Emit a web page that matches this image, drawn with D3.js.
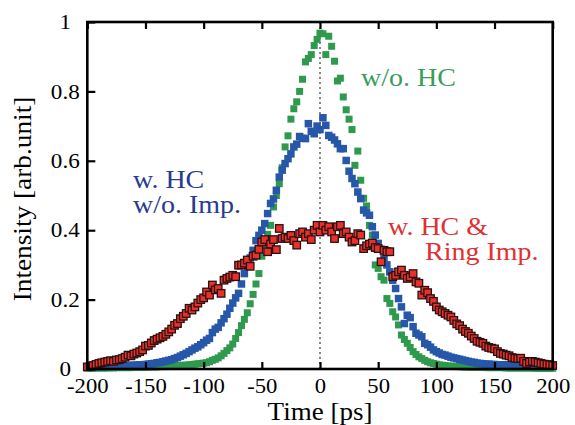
<!DOCTYPE html>
<html>
<head>
<meta charset="utf-8">
<script src="https://cdn.jsdelivr.net/npm/d3@7"></script>
<style>
  html, body { margin: 0; padding: 0; background: #fff; }
  svg text { font-family: "Liberation Serif", "Times New Roman", serif; }
</style>
</head>
<body>
<svg id="chart" width="575" height="425"></svg>
<script>
// Sampling times [ps]
const times = [
  -200,-197.5,-195,-192.5,-190,-187.5,-185,-182.5,-180,-177.5,
  -175,-172.5,-170,-167.5,-165,-162.5,-160,-157.5,-155,-152.5,
  -150,-147.5,-145,-142.5,-140,-137.5,-135,-132.5,-130,-127.5,
  -125,-122.5,-120,-117.5,-115,-112.5,-110,-107.5,-105,-102.5,
  -100,-97.5,-95,-92.5,-90,-87.5,-85,-82.5,-80,-77.5,
  -75,-72.5,-70,-67.5,-65,-62.5,-60,-57.5,-55,-52.5,
  -50,-47.5,-45,-42.5,-40,-37.5,-35,-32.5,-30,-27.5,
  -25,-22.5,-20,-17.5,-15,-12.5,-10,-7.5,-5,-2.5,
  0,2.5,5,7.5,10,12.5,15,17.5,20,22.5,
  25,27.5,30,32.5,35,37.5,40,42.5,45,47.5,
  50,52.5,55,57.5,60,62.5,65,67.5,70,72.5,
  75,77.5,80,82.5,85,87.5,90,92.5,95,97.5,
  100,102.5,105,107.5,110,112.5,115,117.5,120,122.5,
  125,127.5,130,132.5,135,137.5,140,142.5,145,147.5,
  150,152.5,155,157.5,160,162.5,165,167.5,170,172.5,
  175,177.5,180,182.5,185,187.5,190,192.5,195,197.5,
  200
];

// Bunch profile without harmonic cavity
const noHC = [
  0.003,0.003,0.002,0.003,0.003,0.003,0.003,0.003,0.004,0.003,
  0.004,0.004,0.004,0.004,0.004,0.004,0.005,0.005,0.005,0.005,
  0.005,0.006,0.006,0.006,0.006,0.007,0.007,0.007,0.008,0.008,
  0.009,0.009,0.010,0.011,0.011,0.012,0.013,0.014,0.015,0.016,
  0.017,0.018,0.021,0.025,0.028,0.032,0.038,0.045,0.053,0.061,
  0.072,0.088,0.105,0.125,0.143,0.162,0.188,0.215,0.245,0.275,
  0.325,0.357,0.388,0.414,0.467,0.500,0.534,0.580,0.640,0.672,
  0.720,0.750,0.770,0.800,0.835,0.885,0.895,0.906,0.932,0.950,
  0.968,0.966,0.906,0.959,0.930,0.887,0.830,0.838,0.784,0.747,
  0.720,0.690,0.587,0.628,0.544,0.492,0.470,0.414,0.386,0.300,
  0.290,0.266,0.256,0.203,0.189,0.165,0.150,0.127,0.098,0.085,
  0.074,0.062,0.050,0.042,0.035,0.030,0.025,0.021,0.018,0.016,
  0.014,0.012,0.011,0.010,0.009,0.008,0.008,0.007,0.007,0.006,
  0.006,0.006,0.005,0.005,0.005,0.005,0.005,0.004,0.004,0.004,
  0.004,0.004,0.004,0.004,0.003,0.003,0.003,0.003,0.003,0.003,
  0.003,0.003,0.003,0.003,0.002,0.002,0.002,0.002,0.002,0.002,
  0.002
];

// With harmonic cavity, no impedance
const hcNoImp = [
  0.005,0.005,0.006,0.006,0.006,0.007,0.007,0.007,0.008,0.008,
  0.008,0.009,0.009,0.009,0.010,0.010,0.011,0.011,0.012,0.012,
  0.013,0.014,0.015,0.016,0.018,0.019,0.021,0.023,0.025,0.027,
  0.030,0.033,0.037,0.041,0.045,0.050,0.055,0.060,0.064,0.070,
  0.076,0.083,0.088,0.105,0.115,0.120,0.133,0.145,0.158,0.175,
  0.190,0.205,0.218,0.245,0.275,0.295,0.320,0.342,0.370,0.385,
  0.400,0.419,0.448,0.477,0.490,0.515,0.553,0.573,0.592,0.606,
  0.620,0.640,0.648,0.670,0.665,0.664,0.707,0.685,0.678,0.700,
  0.690,0.724,0.702,0.673,0.668,0.660,0.649,0.635,0.635,0.601,
  0.570,0.549,0.534,0.510,0.491,0.458,0.450,0.443,0.410,0.386,
  0.362,0.345,0.319,0.300,0.280,0.256,0.232,0.203,0.179,0.131,
  0.155,0.148,0.122,0.103,0.098,0.093,0.074,0.070,0.063,0.055,
  0.050,0.046,0.042,0.040,0.037,0.034,0.032,0.030,0.028,0.026,
  0.024,0.022,0.020,0.019,0.017,0.016,0.015,0.014,0.014,0.013,
  0.013,0.012,0.012,0.012,0.011,0.011,0.011,0.011,0.010,0.010,
  0.010,0.010,0.010,0.009,0.009,0.009,0.009,0.009,0.008,0.008,
  0.008
];

// With harmonic cavity and ring impedance
const hcRingImp = [
  0.006,0.008,0.010,0.013,0.016,0.018,0.020,0.022,0.024,0.022,
  0.026,0.027,0.030,0.034,0.040,0.038,0.043,0.046,0.050,0.055,
  0.066,0.068,0.075,0.082,0.086,0.090,0.094,0.100,0.107,0.115,
  0.126,0.131,0.145,0.152,0.160,0.175,0.170,0.179,0.190,0.200,
  0.205,0.222,0.213,0.242,0.228,0.232,0.218,0.256,0.261,0.265,
  0.270,0.266,0.299,0.300,0.305,0.314,0.296,0.325,0.328,0.345,
  0.366,0.373,0.338,0.360,0.373,0.344,0.405,0.376,0.380,0.376,
  0.385,0.370,0.357,0.390,0.395,0.380,0.390,0.373,0.400,0.414,
  0.395,0.414,0.400,0.410,0.395,0.376,0.410,0.414,0.390,0.395,
  0.380,0.366,0.370,0.390,0.386,0.347,0.355,0.360,0.363,0.350,
  0.347,0.309,0.342,0.338,0.338,0.266,0.270,0.280,0.285,0.270,
  0.261,0.265,0.275,0.251,0.247,0.213,0.227,0.220,0.203,0.195,
  0.179,0.170,0.165,0.160,0.155,0.150,0.140,0.130,0.125,0.115,
  0.108,0.103,0.095,0.088,0.080,0.077,0.074,0.066,0.062,0.060,
  0.058,0.050,0.045,0.043,0.040,0.038,0.033,0.031,0.030,0.031,
  0.022,0.016,0.020,0.022,0.020,0.018,0.016,0.014,0.013,0.012,
  0.010
];

const xTicks = [-200, -150, -100, -50, 0, 50, 100, 150, 200];
const xTickLabels = ["-200", "-150", "-100", "-50", "0", "50", "100", "150", "200"];
const yTicks = [0, 0.2, 0.4, 0.6, 0.8, 1];
const yTickLabels = ["0", "0.2", "0.4", "0.6", "0.8", "1"];

const svg = d3.select("#chart");
const plotLeft = 87.3, plotRight = 552.7, plotTop = 22, plotBottom = 369;

const x = d3.scaleLinear().domain([-200, 200]).range([plotLeft, plotRight]);
const y = d3.scaleLinear().domain([0, 1]).range([plotBottom, plotTop]);

// widen glyph runs slightly (the typeset originals are set a bit wide)
function widen(sel, k) {
  sel.each(function () {
    const w = this.getComputedTextLength();
    d3.select(this).attr("textLength", w * k).attr("lengthAdjust", "spacingAndGlyphs");
  });
}

// zero-time guide
svg.append("line")
  .attr("x1", x(0)).attr("x2", x(0))
  .attr("y1", y(1)).attr("y2", y(0))
  .attr("stroke", "#555").attr("stroke-width", 1.4)
  .attr("stroke-dasharray", "2,3");

function drawSeries(values, size, fill, stroke, sw) {
  const g = svg.append("g");
  g.selectAll("rect").data(values).join("rect")
    .attr("x", (d, i) => x(times[i]) - size / 2)
    .attr("y", d => y(d) - size / 2)
    .attr("width", size).attr("height", size)
    .attr("fill", fill)
    .attr("stroke", stroke || "none")
    .attr("stroke-width", sw || 0);
}

drawSeries(noHC, 7, "#2f9a4e");
drawSeries(hcNoImp, 7.5, "#2657a8");
drawSeries(hcRingImp, 7.5, "#e8312a", "#2a1010", 1.3);

// frame
svg.append("rect")
  .attr("x", plotLeft).attr("y", plotTop)
  .attr("width", plotRight - plotLeft).attr("height", plotBottom - plotTop)
  .attr("fill", "none").attr("stroke", "#000").attr("stroke-width", 2.6);

// axes with inward ticks
const xAxisB = d3.axisBottom(x).tickValues(xTicks)
  .tickFormat((d, i) => xTickLabels[i]).tickSizeInner(-7).tickSizeOuter(0).tickPadding(9);
const gxb = svg.append("g").attr("transform", `translate(0,${plotBottom})`).call(xAxisB);
gxb.select(".domain").remove();
gxb.selectAll(".tick line").attr("stroke", "#000").attr("stroke-width", 2.2);
gxb.selectAll(".tick text").attr("font-size", 21).attr("fill", "#000")
  .attr("font-family", "Liberation Serif, Times New Roman, serif");
widen(gxb.selectAll(".tick text"), 1.08);

const xAxisT = d3.axisTop(x).tickValues(xTicks).tickFormat("").tickSizeInner(-7).tickSizeOuter(0);
const gxt = svg.append("g").attr("transform", `translate(0,${plotTop})`).call(xAxisT);
gxt.select(".domain").remove();
gxt.selectAll(".tick line").attr("stroke", "#000").attr("stroke-width", 2.2);

const yAxis = d3.axisLeft(y).tickValues(yTicks)
  .tickFormat((d, i) => yTickLabels[i]).tickSizeInner(-8).tickSizeOuter(0).tickPadding(20);
const gy = svg.append("g").attr("transform", `translate(${plotLeft},0)`).call(yAxis);
gy.select(".domain").remove();
gy.selectAll(".tick line").attr("stroke", "#000").attr("stroke-width", 2.2);
gy.selectAll(".tick text").attr("font-size", 21).attr("fill", "#000")
  .attr("text-anchor", "middle").attr("x", -22)
  .attr("font-family", "Liberation Serif, Times New Roman, serif");
widen(gy.selectAll(".tick text"), 1.1);

// axis titles
const xTitle = svg.append("text")
  .attr("x", x(0)).attr("y", 420)
  .attr("text-anchor", "middle").attr("font-size", 25).attr("fill", "#000")
  .text("Time [ps]");
widen(xTitle, 1.08);

const yTitle = svg.append("text")
  .attr("transform", `translate(31,${(90 + 308) / 2}) rotate(-90)`)
  .attr("text-anchor", "middle").attr("font-size", 26).attr("fill", "#000")
  .text("Intensity [arb.unit]");
widen(yTitle, 1.05);

// series labels
function label(lines, color) {
  lines.forEach(([tx, ty, s]) => {
    const t = svg.append("text").attr("x", tx).attr("y", ty)
      .attr("font-size", 25).attr("fill", color).text(s);
    widen(t, 1.12);
  });
}
label([[361, 86, "w/o. HC"]], "#3a9d5d");
label([[133, 188, "w. HC"], [133, 213, "w/o. Imp."]], "#2b3990");
label([[388, 235, "w. HC &"], [425, 260, "Ring Imp."]], "#e03033");
</script>
</body>
</html>
